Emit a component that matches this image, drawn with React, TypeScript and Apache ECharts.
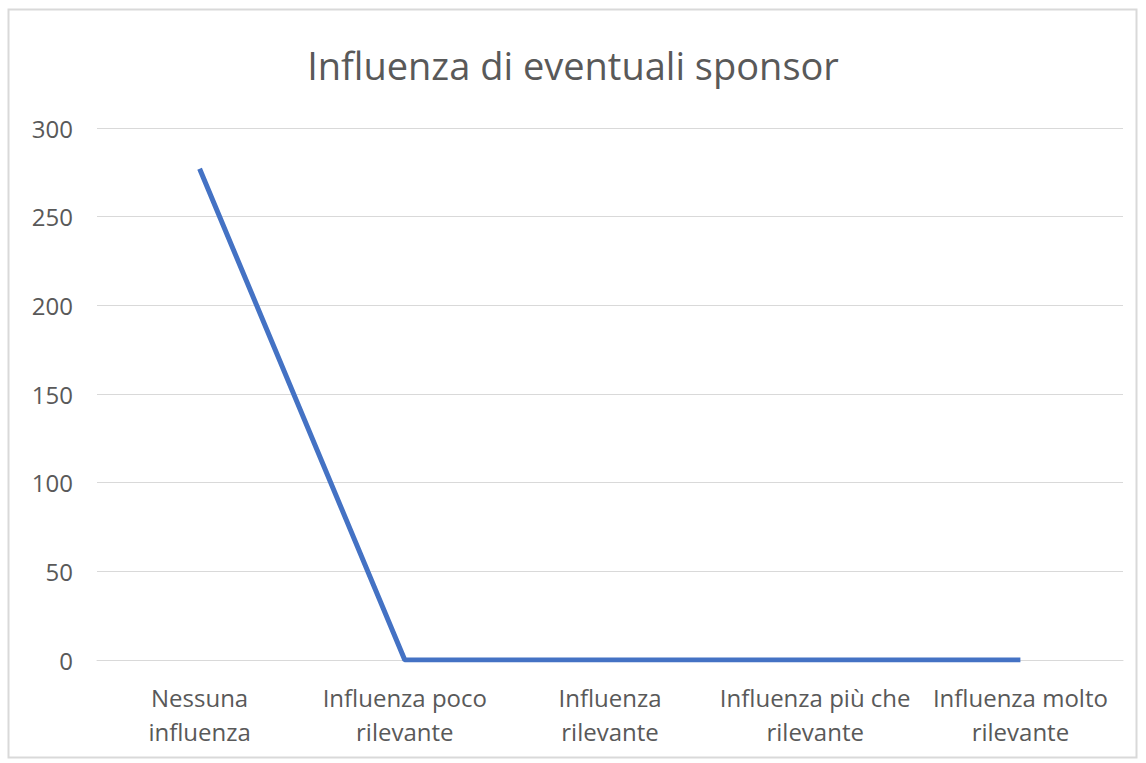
import React, { useEffect, useRef } from "react";
import * as echarts from "echarts";

const title = "Influenza di eventuali sponsor";
const categories = [
  "Nessuna\ninfluenza",
  "Influenza poco\nrilevante",
  "Influenza\nrilevante",
  "Influenza più che\nrilevante",
  "Influenza molto\nrilevante",
];
const values = [277, 0, 0, 0, 0];
const yTicks = { min: 0, max: 300, interval: 50 };

export default function App() {
  const ref = useRef<HTMLDivElement>(null);
  useEffect(() => {
    if (!ref.current) return;
    const chart = echarts.init(ref.current, undefined, { renderer: "svg" });
    const font = "'Open Sans', sans-serif";
    chart.setOption({
      animation: false,
      backgroundColor: "#ffffff",
      title: {
        text: title,
        left: "center",
        top: 41,
        textStyle: { fontFamily: font, fontSize: 38, fontWeight: "normal", color: "#595959" },
      },
      graphic: [
        {
          type: "rect",
          shape: { x: 8.5, y: 9.5, width: 1128, height: 748 },
          style: { fill: "none", stroke: "#d9d9d9", lineWidth: 2 },
          silent: true,
        },
      ],
      grid: { left: 97, right: 23, top: 128, bottom: 103 },
      xAxis: {
        type: "category",
        data: categories,
        boundaryGap: true,
        axisLine: { show: true, lineStyle: { color: "#d9d9d9", width: 1 } },
        axisTick: { show: false },
        axisLabel: {
          interval: 0,
          fontFamily: font,
          fontSize: 24,
          lineHeight: 34,
          color: "#595959",
          margin: 20,
        },
      },
      yAxis: {
        type: "value",
        min: yTicks.min,
        max: yTicks.max,
        interval: yTicks.interval,
        axisLine: { show: false },
        axisTick: { show: false },
        splitLine: { lineStyle: { color: "#d9d9d9", width: 1 } },
        axisLabel: { fontFamily: font, fontSize: 24, color: "#595959", margin: 24 },
      },
      series: [
        {
          type: "line",
          data: values,
          symbol: "none",
          lineStyle: { color: "#4472C4", width: 5 },
        },
      ],
    });
    return () => chart.dispose();
  }, []);
  return (
    <div
      ref={ref}
      style={{ position: "fixed", left: 0, top: 0, width: 1146, height: 763 }}
    />
  );
}
